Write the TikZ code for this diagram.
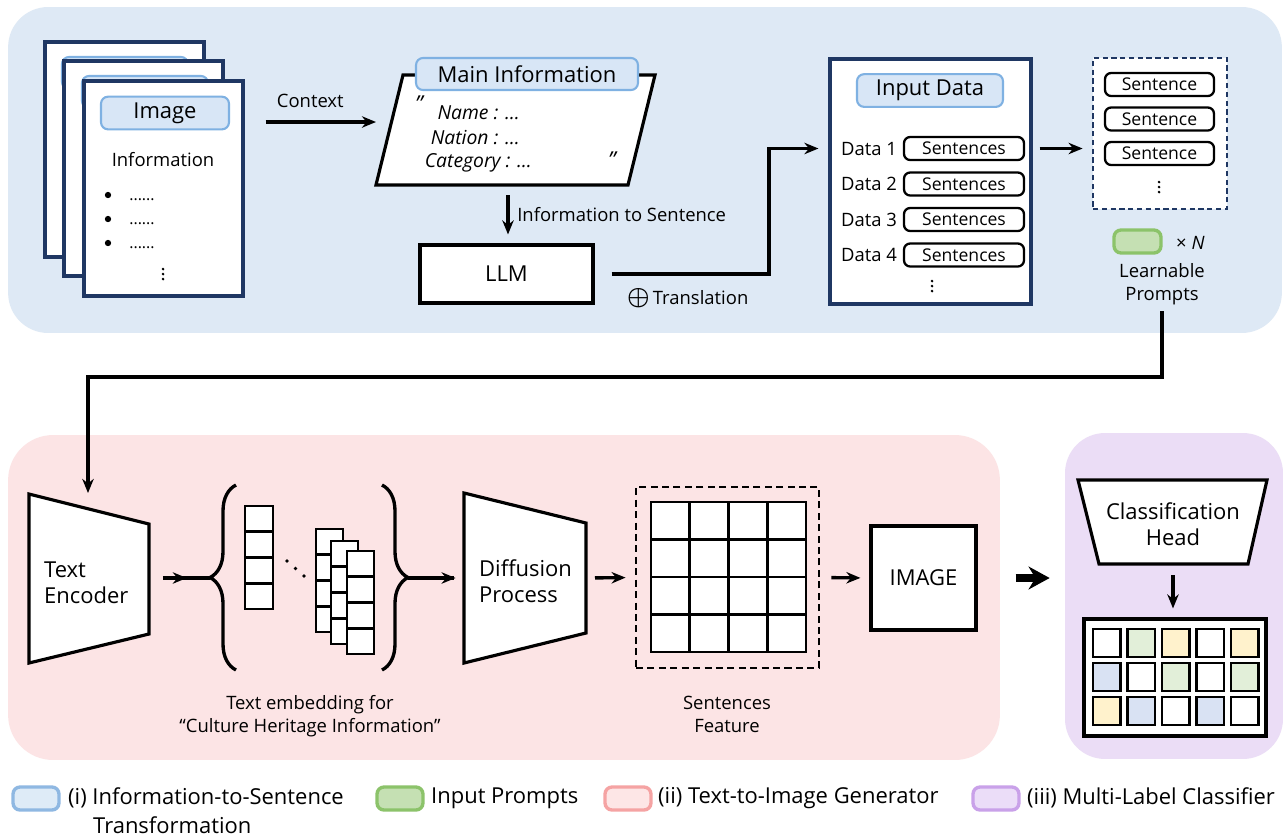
\documentclass[tikz,border=0pt]{standalone}
\usepackage{fontspec}
\setmainfont{Open Sans}
\usepackage{tikz}
\usetikzlibrary{shapes,arrows,arrows.meta,positioning,decorations.pathreplacing,decorations.markings}
\usepackage{xcolor}
\usepackage{amsmath}
\definecolor{panelblue}{HTML}{DEE9F5}
\definecolor{panelpink}{HTML}{FCE4E5}
\definecolor{panelpurple}{HTML}{EBDDF6}
\definecolor{navyline}{HTML}{1F3763}
\definecolor{tagedge}{HTML}{7FB1E2}
\definecolor{tagfill}{HTML}{D8E6F6}
\definecolor{promptgreen}{HTML}{C5E0B3}
\definecolor{promptedge}{HTML}{8CC36A}
\definecolor{cellgreen}{HTML}{E2EFD9}
\definecolor{cellyellow}{HTML}{FFF2CC}
\definecolor{cellblue}{HTML}{D9E2F3}
\definecolor{legblue}{HTML}{DEEBF7}
\definecolor{legblueedge}{HTML}{8FB8E2}
\definecolor{legpink}{HTML}{FDE6E6}
\definecolor{legpinkedge}{HTML}{F5A3A3}
\definecolor{legpurple}{HTML}{EBDDF8}
\definecolor{legpurpleedge}{HTML}{C9A1E9}

\newcommand{\fbig}{\fontsize{12.5}{15}\selectfont}
\newcommand{\fmid}{\fontsize{10.5}{13}\selectfont}
\newcommand{\fsml}{\fontsize{10}{12}\selectfont}
\newcommand{\fita}{\fontsize{11}{13}\selectfont\itshape}

\begin{document}
\begin{tikzpicture}[x=0.02cm, y=-0.02cm,
    every node/.style={font=\fmid},
    panel/.style={rectangle, rounded corners=0.8cm, inner sep=0pt},
    page/.style={rectangle, draw=navyline, line width=1.8pt, fill=white, minimum width=3.18cm, minimum height=4.3cm},
    tag/.style={rectangle, draw=tagedge, fill=tagfill, line width=1.2pt, rounded corners=4pt, minimum height=0.64cm, font=\fbig},
    box/.style={rectangle, draw, line width=1.8pt, fill=white, font=\fbig},
    sent/.style={rectangle, draw, line width=1.3pt, fill=white, rounded corners=3.5pt, minimum height=0.46cm, inner sep=0pt, font=\fsml},
    shapeline/.style={draw, line width=1.8pt, fill=white},
    cell/.style={draw, line width=1.6pt, fill=white},
    swatch/.style={rectangle, rounded corners=4pt, line width=1.9pt, minimum width=0.92cm, minimum height=0.46cm},
    arrow/.style={-{Stealth[length=8pt, width=6.5pt]}, line width=1.9pt},
    midarrow/.style={line width=1.9pt, postaction={decorate}, decoration={markings, mark=at position #1 with {\arrow{Stealth[length=8pt, width=6.5pt]}}}},
    bracket/.style={line width=1.9pt, decorate, decoration={brace, amplitude=0.52cm}}
]
\path[use as bounding box, fill=white] (0,0) rectangle (1286,836);

% panels
\node[panel, fill=panelblue, minimum width=25.48cm, minimum height=6.52cm] (pnl1) at (645,170) {};
\node[panel, fill=panelpink, minimum width=19.84cm, minimum height=6.5cm, rounded corners=0.9cm] (pnl2) at (504,597.5) {};
\node[panel, fill=panelpurple, minimum width=4.36cm, minimum height=6.52cm] (pnl3) at (1174,596) {};

% (i) information pages
\node[page] (pg1) at (124.5,149.5) {};
\node[tag, minimum width=2.52cm] (tg1) at (125,73) {};
\node[page] (pg2) at (143.5,168.5) {};
\node[tag, minimum width=2.52cm] (tg2) at (145,92) {};
\node[page] (pg3) at (163.5,188.5) {};
\node[tag, minimum width=2.56cm] (tg3) at (165,113) {Image};
\node (info) at (163,160) {Information};
\foreach \y [count=\k] in {195,219,243} {
    \fill (108,\y) circle (1.8pt);
    \node[font=\fontsize{9}{10}\selectfont, inner sep=0pt] (dots\k) at (142,\y+5) {......};
}

% main information
\coordinate (pa) at (376,185);
\coordinate (pb) at (628,185);
\coordinate (pc) at (655,75);
\coordinate (pd) at (403,75);
\draw[shapeline] (pa) -- (pb) -- (pc) -- (pd) -- cycle;
\node[tag, minimum width=4.44cm] (mtag) at (527,74) {Main Information};
\node[font=\fbig\itshape] (q1) at (419,104) {"};
\node[font=\fbig\itshape] (q2) at (612,160) {"};
\node[font=\fita, anchor=east] (nm) at (526,113) {Name : …};
\node[font=\fita, anchor=east] (nt) at (526,138) {Nation : …};
\node[font=\fita, anchor=east] (ct) at (538,163) {Category : …};

\coordinate (par-w) at (376,122);
\draw[arrow, shorten <=0.42cm] (pg3.east |- par-w) -- node[above=4pt] (ctx) {Context} (par-w);

% LLM
\node[box, minimum width=3.46cm, minimum height=1.16cm] (llm) at (506.5,274) {LLM};
\coordinate (par-s) at (508,185);
\draw[arrow, shorten <=0.2cm, shorten >=0.18cm] (par-s) -- node[right=1pt] (i2s) {Information to Sentence} (llm.north -| par-s);

% input data
\node[box, draw=navyline, minimum width=4.02cm, minimum height=4.9cm] (indata) at (930.5,181.5) {};
\node[tag, minimum width=2.92cm] (itag) at (930,90.5) {Input Data};
\foreach \y [count=\k] in {148.5,184,219.5,255} {
    \node[anchor=west] (d\k) at (835,\y) {Data \k};
    \node[sent, minimum width=2.4cm] (s\k) at (964,\y) {Sentences};
}

\coordinate (bend) at (769,274);
\draw[arrow, shorten <=0.34cm, shorten >=0.2cm] (llm.east) -- (bend) |- (indata.west |- d1);
\node[anchor=west] (trans) at (621,298) {{\fontsize{15}{15}\selectfont$\boldsymbol{\oplus}$}\,Translation};

% learnable prompts
\node[rectangle, draw=navyline, dashed, dash pattern=on 3pt off 2pt, line width=1.6pt, fill=white, minimum width=2.68cm, minimum height=3.02cm] (prm) at (1160,133.5) {};
\foreach \y [count=\k] in {84.5,119,153.5}
    \node[sent, minimum width=2.18cm] (p\k) at (1159.5,\y) {Sentence};
\draw[arrow, shorten <=0.14cm, shorten >=0.18cm] (indata.east |- d1) -- (prm.west |- d1);

% vertical dots
\foreach \cx/\cy in {163/274, 932/286, 1159/187}
    \foreach \d in {-5,0,5}
        \fill (\cx,\cy+\d) circle (0.85pt);

\node[swatch, draw=promptedge, fill=promptgreen, minimum width=0.94cm, minimum height=0.46cm] (sw) at (1137.5,241.5) {};
\node[anchor=west] (xn) at (1170,243) {×~\textit{N}};
\node[align=center] (lp) at (1162,284.5) {Learnable\\Prompts};

\coordinate (turn) at (1162,377);
\coordinate (enc-in) at (88,493);
\draw[arrow] (lp.south) -- (turn) -| (enc-in);

% (ii) text-to-image generator
\draw[shapeline] (29,494) -- (149,524) -- (149,634) -- (29,663) -- cycle;
\node[align=left, anchor=west, font=\fbig] (enc) at (38,583) {Text\\Encoder};
\coordinate (enc-r) at (149,578);
\coordinate (lb-tip) at (210,578);
\draw[midarrow=0.62, shorten <=0.28cm] (enc-r) -- (lb-tip);

\draw[bracket] (236,670) -- (236,485);
\draw[bracket] (382,485) -- (382,670);
\coordinate (rb-tip) at (408,578);

\foreach \i in {0,...,3}
    \draw[cell] (245,{506+25.75*\i}) rectangle ++(28,25.75);
\foreach \k in {0,1,2}
    \fill ({287+8.5*\k},{561+7.5*\k}) circle (1.1pt);
\foreach \cx/\cy in {316/529,331/541,347/551}
    \foreach \i in {0,...,3}
        \draw[cell] (\cx,{\cy+25.75*\i}) rectangle ++(27,25.75);
\node[align=center] (emb) at (310,716) {Text embedding for\\``Culture Heritage Information''};

\draw[shapeline] (464,493) -- (586,523) -- (586,633) -- (464,663) -- cycle;
\node[align=left, anchor=west, font=\fbig] (dif) at (473,581) {Diffusion\\Process};
\coordinate (dif-l) at (464,578);
\coordinate (dif-r) at (586,578);
\draw[midarrow=0.85, shorten >=0.2cm] (rb-tip) -- (dif-l);

\node[rectangle, draw, dashed, dash pattern=on 4pt off 2.5pt, line width=1.6pt, minimum width=3.66cm, minimum height=3.62cm] (feat) at (727.5,577.5) {};
\foreach \i in {0,...,3}
    \foreach \j in {0,...,3}
        \draw[cell] ({651+38.75*\i},{502+37.5*\j}) rectangle ++(38.75,37.5);
\node[align=center] (featlbl) at (727,714.5) {Sentences\\Feature};
\draw[arrow, shorten <=0.18cm, shorten >=0.18cm] (dif-r) -- (feat.west);

\node[box, minimum width=2.1cm, minimum height=2.08cm] (img) at (923.5,578) {IMAGE};
\draw[arrow, shorten <=0.22cm, shorten >=0.18cm] (feat.east) -- (img.west);
\draw[-{Stealth[length=12pt, width=13pt]}, line width=4.5pt, shorten <=0.76cm, shorten >=0.3cm] (img.east) -- (pnl3.west |- img.east);

% (iii) multi-label classifier
\draw[shapeline] (1078,480) -- (1267,480) -- (1248,564) -- (1099,564) -- cycle;
\node[align=center, font=\fbig] (cls) at (1173,524) {Classification\\Head};
\coordinate (cls-b) at (1173,564);
\node[box, minimum width=3.64cm, minimum height=2.34cm] (out) at (1175,677.5) {};
\draw[arrow, shorten <=0.22cm, shorten >=0.18cm] (cls-b) -- (out.north -| cls-b);
\foreach \c [count=\n from 0] in {white,cellgreen,cellyellow,white,cellyellow,
        cellblue,white,cellgreen,white,cellgreen,
        cellyellow,cellblue,white,cellblue,white} {
    \pgfmathtruncatemacro{\col}{mod(\n,5)}
    \pgfmathtruncatemacro{\row}{div(\n,5)}
    \draw[cell, fill=\c] ({1093+34.5*\col},{629+34*\row}) rectangle ++(27.5,28);
}

% legend
\node[swatch, draw=legblueedge, fill=legblue] (lg1) at (36,798.5) {};
\node[anchor=west, font=\fbig] (lt1) at (62,798) {(i) Information-to-Sentence};
\node[anchor=west, font=\fbig] (lt1b) at (87,825) {Transformation};
\node[swatch, draw=promptedge, fill=promptgreen] (lg2) at (400,798.5) {};
\node[anchor=west, font=\fbig] (lt2) at (425,798) {Input Prompts};
\node[swatch, draw=legpinkedge, fill=legpink] (lg3) at (628,798.5) {};
\node[anchor=west, font=\fbig] (lt3) at (652,798) {(ii) Text-to-Image Generator};
\node[swatch, draw=legpurpleedge, fill=legpurple] (lg4) at (996,798.5) {};
\node[anchor=west, font=\fbig] (lt4) at (1021,798) {(iii) Multi-Label Classifier};
\end{tikzpicture}
\end{document}
